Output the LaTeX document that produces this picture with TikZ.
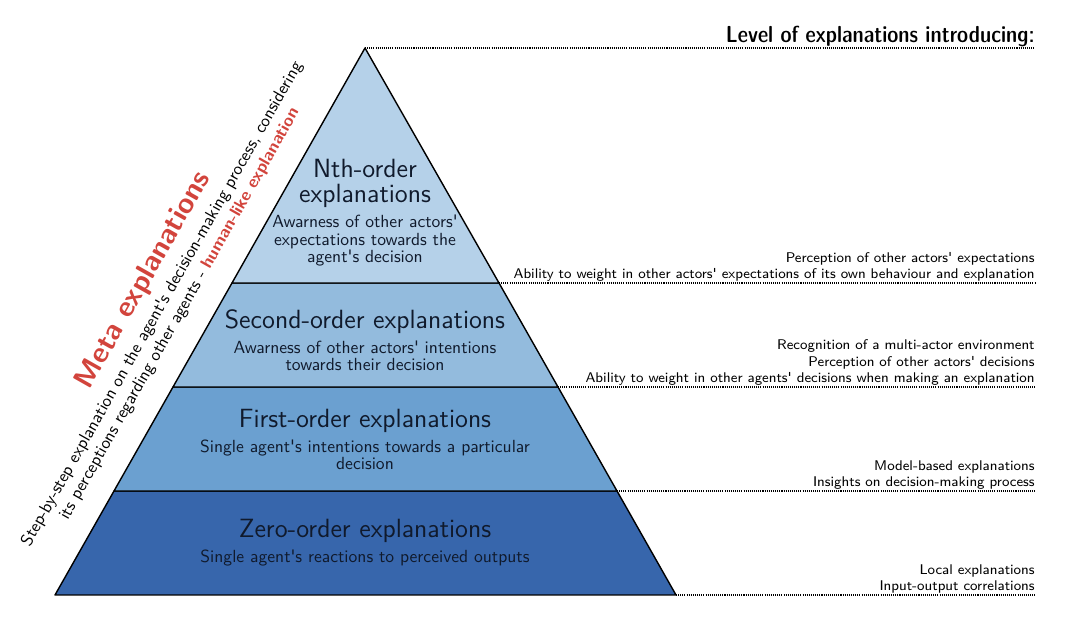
\documentclass[tikz,border=0pt]{standalone}
\usepackage{amsmath}
\usepackage{color}
\usetikzlibrary{positioning}
\renewcommand{\familydefault}{\sfdefault}
\newcommand{\apos}{\textquotesingle}

\definecolor{lvlnth}{HTML}{B5D1E9}
\definecolor{lvlsec}{HTML}{93BBDD}
\definecolor{lvlfst}{HTML}{6BA0D0}
\definecolor{lvlzero}{HTML}{3766AC}
\definecolor{metared}{HTML}{D2443C}
\definecolor{ink}{HTML}{101A2C}

\begin{document}
\begin{tikzpicture}[x=0.02cm,y=-0.02cm,
  level/.style={draw=black,line width=0.8pt,line join=round},
  head/.style={font=\fontsize{15}{14.2}\selectfont,text=ink,align=center,inner sep=0pt},
  sub/.style={font=\fontsize{10}{10}\selectfont,text=ink,align=center,inner sep=0pt},
  feat/.style={font=\fontsize{8}{9.4}\selectfont,align=right,anchor=south east,inner xsep=0pt,inner ysep=0.6pt},
  guide/.style={line width=0.7pt,dash pattern=on 0.6pt off 0.6pt}]
\useasboundingbox (0,0) rectangle (1080,628);

% corners of the levels
\coordinate (top) at (365,48);
\coordinate (l1) at (232,283); \coordinate (r1) at (499,283);
\coordinate (l2) at (173,387); \coordinate (r2) at (558,387);
\coordinate (l3) at (114,491); \coordinate (r3) at (617,491);
\coordinate (l4) at (55,595);  \coordinate (r4) at (676,595);

\filldraw[level,fill=lvlzero] (l3) -- (r3) -- (r4) -- (l4) -- cycle;
\filldraw[level,fill=lvlfst] (l2) -- (r2) -- (r3) -- (l3) -- cycle;
\filldraw[level,fill=lvlsec] (l1) -- (r1) -- (r2) -- (l2) -- cycle;
\filldraw[level,fill=lvlnth] (top) -- (r1) -- (l1) -- cycle;

% level texts
\node[head] (nth) at (365,183) {Nth-order\\explanations};
\node[sub,below=4pt of nth] (nth_t) {Awarness of other actors\apos\\expectations towards the\\agent\apos s decision};
\node[head] (sec) at (365,322) {Second-order explanations};
\node[sub,below=3.5pt of sec] (sec_t) {Awarness of other actors\apos{} intentions\\towards their decision};
\node[head] (fst) at (365,421) {First-order explanations};
\node[sub,below=3.5pt of fst] (fst_t) {Single agent\apos s intentions towards a particular\\decision};
\node[head] (zero) at (365,531) {Zero-order explanations};
\node[sub,below=3.5pt of zero] (zero_t) {Single agent\apos s reactions to perceived outputs};

% guide lines to the right
\coordinate (e0) at (1035,48);
\coordinate (e1) at (1035,283);
\coordinate (e2) at (1035,387);
\coordinate (e3) at (1035,491);
\coordinate (e4) at (1035,595);
\draw[guide] (top) -- (e0);
\draw[guide] (r1) -- (e1);
\draw[guide] (r2) -- (e2);
\draw[guide] (r3) -- (e3);
\draw[guide] (r4) -- (e4);

\node[feat,inner ysep=0.3pt,font=\fontsize{13.2}{14}\fontseries{sbc}\selectfont] (intro) at (e0) {Level of explanations introducing:};
\node[feat] (f_nth) at (e1) {Perception of other actors\apos{} expectations\\Ability to weight in other actors\apos{} expectations of its own behaviour and explanation};
\node[feat] (f_sec) at (e2) {Recognition of a multi-actor environment\\Perception of other actors\apos{} decisions\\Ability to weight in other agents\apos{} decisions when making an explanation};
\node[feat] (f_fst) at (e3) {Model-based explanations\\Insights on decision-making process};
\node[feat] (f_zero) at (e4) {Local explanations\\Input-output correlations};

% meta explanations along the slope
\node[rotate=60.5,anchor=base,inner sep=0pt,text=metared,font=\fontsize{16.5}{18}\bfseries] (meta) at (150,284) {Meta explanations};
\node[rotate=60.5,inner sep=0pt,align=center,font=\fontsize{9.8}{11.4}\selectfont] (meta_t) at (171,309)
  {Step-by-step explanation on the agent\apos s decision-making process, considering\\its perceptions regarding other agents - {\color{metared}\bfseries human-like explanation}};
\end{tikzpicture}
\end{document}
